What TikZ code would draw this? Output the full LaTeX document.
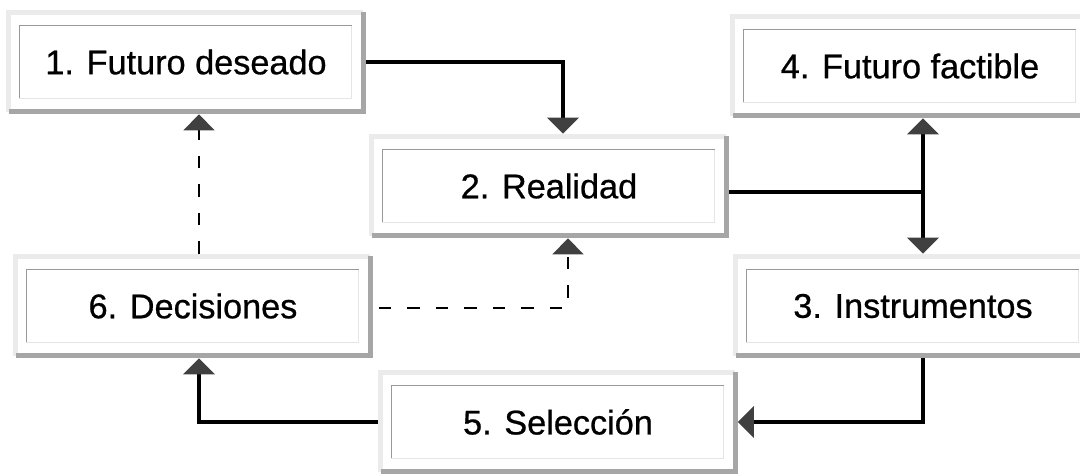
\documentclass[tikz,border=0pt]{standalone}
\usepackage{fontspec}
\setmainfont{Liberation Sans}
\newfontface\cardfont{Liberation Sans}[FakeBold=0.7]
\usetikzlibrary{arrows.meta}
\tikzset{card/.style={rectangle, minimum width=7.18cm, minimum height=2.08cm, inner sep=0pt, font=\cardfont\fontsize{19.5}{23}\selectfont}}
\tikzset{rimlight/.style={draw=black!8, line width=0.1cm}, rimdark/.style={draw=black!35, line width=0.1cm}}
\tikzset{facedark/.style={draw=black!40, line width=0.025cm}, facelight/.style={draw=black!10, line width=0.025cm}}
\tikzset{link/.style={line width=0.09cm}, flow/.style={link, ->}}
\tikzset{hint/.style={->, line width=0.04cm, dash pattern=on 0.25cm off 0.32cm}}

\begin{document}
\begin{tikzpicture}[x=0.02cm, y=-0.02cm, >={Triangle[width=0.62cm, length=0.32cm, color=black!75]}]
          \useasboundingbox (0,0) rectangle (1080,474);
          \clip (0,0) rectangle (1080,474);

          \node[card] (des) at (186,62) {1. Futuro deseado};
          \node[card] (rea) at (549,186) {2. Realidad};
          \node[card] (ins) at (913,306) {3. Instrumentos};
          \node[card] (fac) at (910,66) {4. Futuro factible};
          \node[card] (sel) at (558,422) {5. Selección};
          \node[card] (dec) at (193,306) {6. Decisiones};

          \foreach \n in {des, rea, ins, fac, sel, dec} {
            \draw[rimlight] ([shift={(2.5,-2.5)}]\n.south west) -- ([shift={(2.5,2.5)}]\n.north west) -- ([shift={(-2.5,2.5)}]\n.north east);
            \draw[rimdark] ([shift={(-2.5,2.5)}]\n.north east) -- ([shift={(-2.5,-2.5)}]\n.south east) -- ([shift={(2.5,-2.5)}]\n.south west);
            \draw[facelight] ([shift={(13,-16)}]\n.south west) -- ([shift={(-14,-16)}]\n.south east) -- ([shift={(-14,16)}]\n.north east);
            \draw[facedark] ([shift={(13,-16)}]\n.south west) -- ([shift={(13,16)}]\n.north west) -- ([shift={(-14,16)}]\n.north east);
          }

          \coordinate (hub) at (923,192);

          \draw[flow] (des.east) -| ([shift={(14,0)}]rea.north);
          \draw[link] ([shift={(0,6)}]rea.east) -- (hub);
          \draw[flow, <->] ([shift={(13,0)}]fac.south) -- ([shift={(10,0)}]ins.north);
          \draw[flow] ([shift={(10,0)}]ins.south) |- (sel.east);
          \draw[flow] (sel.west) -| ([shift={(6,0)}]dec.south);
          \draw[hint] ([shift={(6,0)}]dec.north) -- ([shift={(13,0)}]des.south);
          \draw[hint] ([shift={(6,2)}]dec.east) -| ([shift={(19,0)}]rea.south);
        \end{tikzpicture}
\end{document}
